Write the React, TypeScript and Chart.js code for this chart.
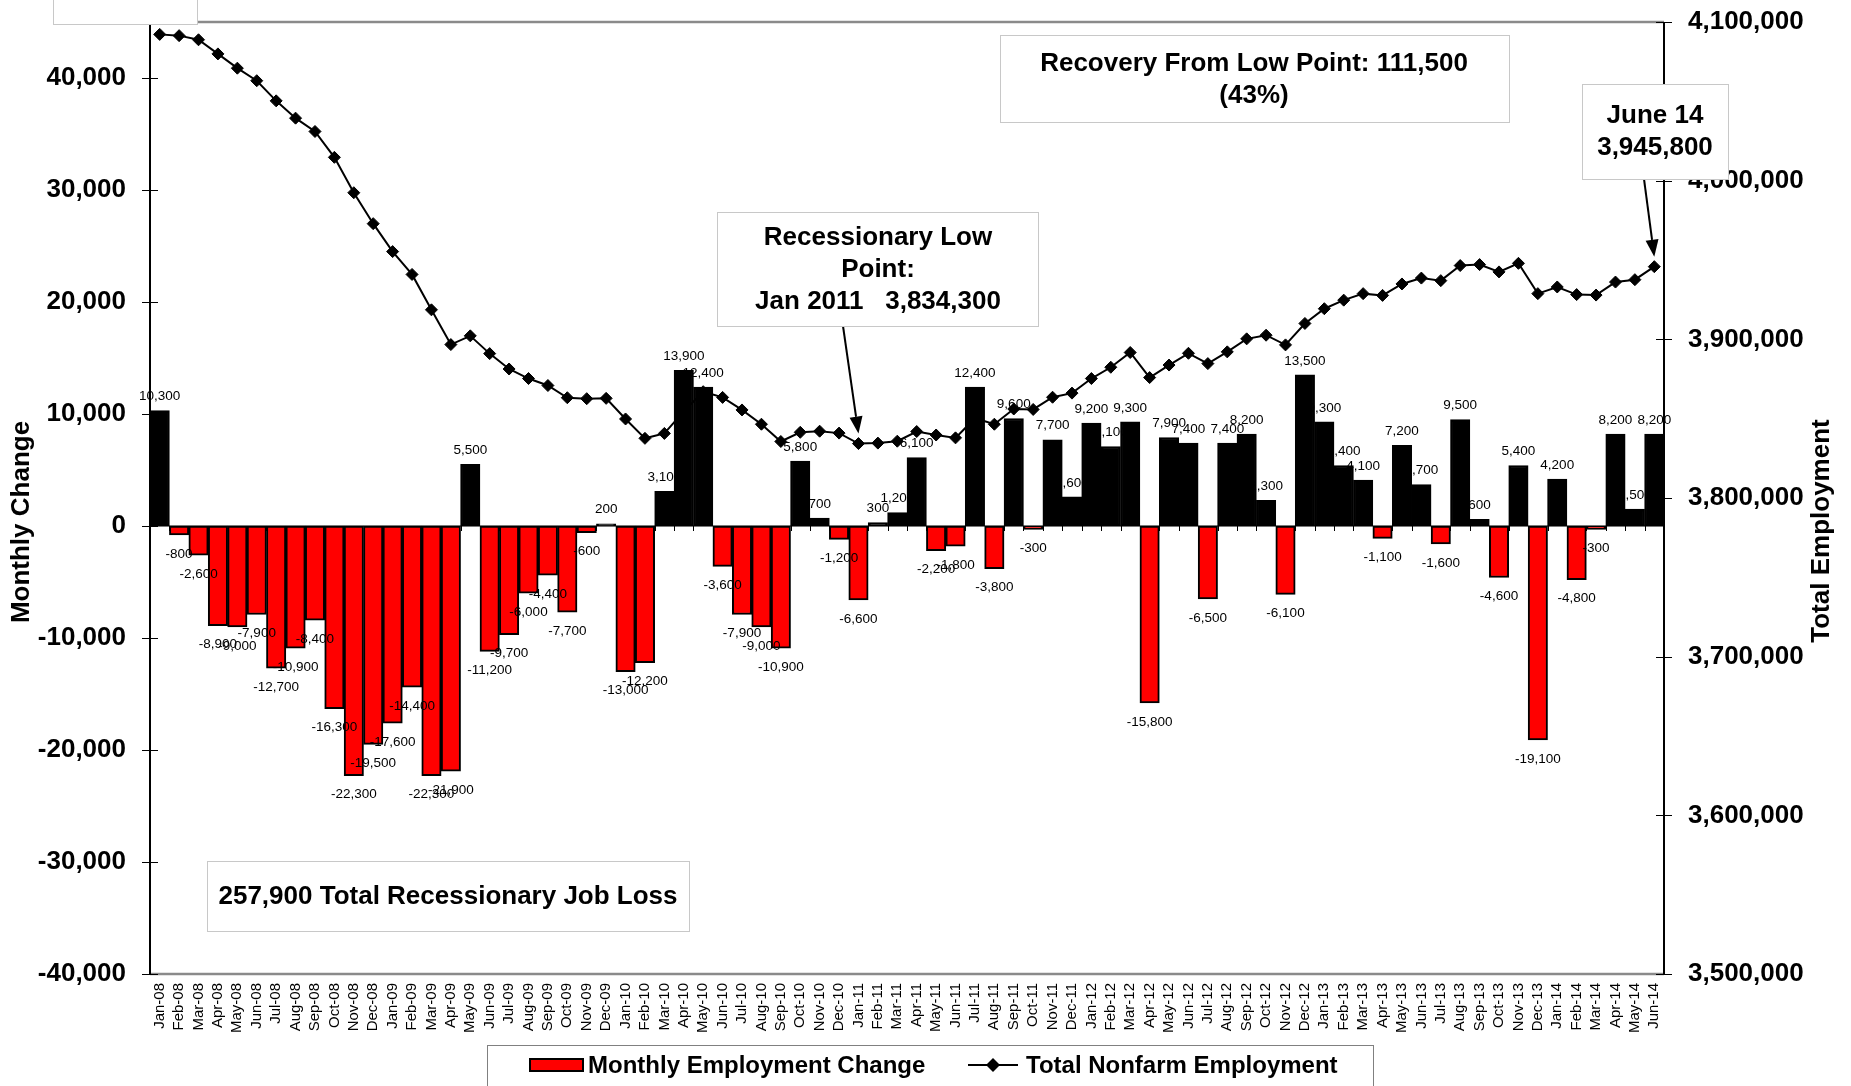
import React, { useEffect, useRef } from 'react';
import { Chart, registerables } from 'chart.js';

Chart.register(...registerables);

const FONT = "'Liberation Sans', Arial, Helvetica, sans-serif";

const months = [
  'Jan-08', 'Feb-08', 'Mar-08', 'Apr-08', 'May-08', 'Jun-08', 'Jul-08', 'Aug-08', 'Sep-08', 'Oct-08', 'Nov-08', 'Dec-08',
  'Jan-09', 'Feb-09', 'Mar-09', 'Apr-09', 'May-09', 'Jun-09', 'Jul-09', 'Aug-09', 'Sep-09', 'Oct-09', 'Nov-09', 'Dec-09',
  'Jan-10', 'Feb-10', 'Mar-10', 'Apr-10', 'May-10', 'Jun-10', 'Jul-10', 'Aug-10', 'Sep-10', 'Oct-10', 'Nov-10', 'Dec-10',
  'Jan-11', 'Feb-11', 'Mar-11', 'Apr-11', 'May-11', 'Jun-11', 'Jul-11', 'Aug-11', 'Sep-11', 'Oct-11', 'Nov-11', 'Dec-11',
  'Jan-12', 'Feb-12', 'Mar-12', 'Apr-12', 'May-12', 'Jun-12', 'Jul-12', 'Aug-12', 'Sep-12', 'Oct-12', 'Nov-12', 'Dec-12',
  'Jan-13', 'Feb-13', 'Mar-13', 'Apr-13', 'May-13', 'Jun-13', 'Jul-13', 'Aug-13', 'Sep-13', 'Oct-13', 'Nov-13', 'Dec-13',
  'Jan-14', 'Feb-14', 'Mar-14', 'Apr-14', 'May-14', 'Jun-14',
];

const monthlyChange = [
  10300, -800, -2600, -8900, -9000, -7900, -12700, -10900, -8400, -16300, -22300, -19500,
  -17600, -14400, -22300, -21900, 5500, -11200, -9700, -6000, -4400, -7700, -600, 200,
  -13000, -12200, 3100, 13900, 12400, -3600, -7900, -9000, -10900, 5800, 700, -1200,
  -6600, 300, 1200, 6100, -2200, -1800, 12400, -3800, 9600, -300, 7700, 2600,
  9200, 7100, 9300, -15800, 7900, 7400, -6500, 7400, 8200, 2300, -6100, 13500,
  9300, 5400, 4100, -1100, 7200, 3700, -1600, 9500, 600, -4600, 5400, -19100,
  4200, -4800, -300, 8200, 1500, 8200,
];

const totalEmployment = [
  4092200, 4091400, 4088800, 4079900, 4070900, 4063000, 4050300, 4039400, 4031000, 4014700, 3992400, 3972900,
  3955300, 3940900, 3918600, 3896700, 3902200, 3891000, 3881300, 3875300, 3870900, 3863200, 3862600, 3862800,
  3849800, 3837600, 3840700, 3854600, 3867000, 3863400, 3855500, 3846500, 3835600, 3841400, 3842100, 3840900,
  3834300, 3834600, 3835800, 3841900, 3839700, 3837900, 3850300, 3846500, 3856100, 3855800, 3863500, 3866100,
  3875300, 3882400, 3891700, 3875900, 3883800, 3891200, 3884700, 3892100, 3900300, 3902600, 3896500, 3910000,
  3919300, 3924700, 3928800, 3927700, 3934900, 3938600, 3937000, 3946500, 3947100, 3942500, 3947900, 3928800,
  3933000, 3928200, 3927900, 3936100, 3937600, 3945800,
];

const leftTicks = [-40000, -30000, -20000, -10000, 0, 10000, 20000, 30000, 40000];
const rightTicks = [3500000, 3600000, 3700000, 3800000, 3900000, 4000000, 4100000];

const seriesNames = ['Monthly Employment Change', 'Total Nonfarm Employment'];
const axisTitles = ['Monthly Change', 'Total Employment'];
const recoveryNote = ['Recovery From Low Point: 111,500', '(43%)'];
const latestNote = ['June 14', '3,945,800'];
const lowNote = ['Recessionary Low', 'Point:', 'Jan 2011   3,834,300'];
const lossNote = ['257,900 Total Recessionary Job Loss'];
const lowIndex = 36;
const latestIndex = 77;

const fmt = (v: number) => Number(v).toLocaleString('en-US');

function drawBox(ctx: CanvasRenderingContext2D, x1: number, y1: number, x2: number, y2: number, stroke = '#c8c8c8') {
  ctx.save();
  ctx.fillStyle = '#ffffff';
  ctx.fillRect(x1, y1, x2 - x1, y2 - y1);
  ctx.strokeStyle = stroke;
  ctx.lineWidth = 1;
  ctx.strokeRect(Math.round(x1) + 0.5, Math.round(y1) + 0.5, x2 - x1, y2 - y1);
  ctx.restore();
}

function drawLines(ctx: CanvasRenderingContext2D, lines: string[], cx: number, ys: number[], size = 26) {
  ctx.save();
  ctx.fillStyle = '#000';
  ctx.font = `bold ${size}px ${FONT}`;
  ctx.textAlign = 'center';
  ctx.textBaseline = 'middle';
  lines.forEach((l, i) => ctx.fillText(l, cx, ys[i]));
  ctx.restore();
}

function drawArrow(ctx: CanvasRenderingContext2D, x1: number, y1: number, x2: number, y2: number) {
  const ang = Math.atan2(y2 - y1, x2 - x1);
  const len = 17;
  const hw = 6.5;
  const bx = x2 - Math.cos(ang) * len;
  const by = y2 - Math.sin(ang) * len;
  ctx.save();
  ctx.strokeStyle = '#000';
  ctx.fillStyle = '#000';
  ctx.lineWidth = 2;
  ctx.beginPath();
  ctx.moveTo(x1, y1);
  ctx.lineTo(bx, by);
  ctx.stroke();
  ctx.beginPath();
  ctx.moveTo(x2, y2);
  ctx.lineTo(bx + Math.sin(ang) * hw, by - Math.cos(ang) * hw);
  ctx.lineTo(bx - Math.sin(ang) * hw, by + Math.cos(ang) * hw);
  ctx.closePath();
  ctx.fill();
  ctx.restore();
}

const decorPlugin = {
  id: 'decor',
  beforeDatasetsDraw(chart: any) {
    const { ctx, chartArea: a, scales } = chart;
    const y0 = scales.y.getPixelForValue(0);
    const n = months.length;
    const w = (a.right - a.left) / n;
    ctx.save();
    ctx.strokeStyle = '#808080';
    ctx.lineWidth = 2;
    ctx.beginPath();
    ctx.moveTo(a.left, y0);
    ctx.lineTo(a.right, y0);
    ctx.stroke();
    ctx.strokeStyle = '#000';
    ctx.lineWidth = 1;
    ctx.beginPath();
    for (let i = 1; i < n; i++) {
      const x = Math.round(a.left + i * w) + 0.5;
      ctx.moveTo(x, y0);
      ctx.lineTo(x, y0 + 5);
    }
    ctx.stroke();
    ctx.restore();
  },
  afterDatasetsDraw(chart: any) {
    const { ctx } = chart;
    const meta = chart.getDatasetMeta(0);
    ctx.save();
    ctx.fillStyle = '#000';
    ctx.font = `13.5px ${FONT}`;
    ctx.textAlign = 'center';
    ctx.textBaseline = 'middle';
    meta.data.forEach((bar: any, i: number) => {
      const v = monthlyChange[i];
      const t = fmt(v);
      if (v >= 0) ctx.fillText(t, bar.x, bar.y - 14);
      else ctx.fillText(t, bar.x, bar.y + 19);
    });
    ctx.restore();
  },
  afterDraw(chart: any) {
    const { ctx, chartArea: a, scales } = chart;
    ctx.save();
    ctx.strokeStyle = '#8a8a8a';
    ctx.lineWidth = 2.5;
    ctx.beginPath();
    ctx.moveTo(a.left, a.top);
    ctx.lineTo(a.right, a.top);
    ctx.moveTo(a.left, a.bottom);
    ctx.lineTo(a.right, a.bottom);
    ctx.stroke();
    ctx.strokeStyle = '#000';
    ctx.lineWidth = 2;
    ctx.beginPath();
    ctx.moveTo(a.left, a.top);
    ctx.lineTo(a.left, a.bottom);
    ctx.moveTo(a.right, a.top);
    ctx.lineTo(a.right, a.bottom);
    ctx.stroke();
    ctx.lineWidth = 1;
    ctx.beginPath();
    leftTicks.forEach((v) => {
      const y = Math.round(scales.y.getPixelForValue(v)) + 0.5;
      ctx.moveTo(a.left - 8, y);
      ctx.lineTo(a.left + 8, y);
    });
    rightTicks.forEach((v) => {
      const y = Math.round(scales.y1.getPixelForValue(v)) + 0.5;
      ctx.moveTo(a.right - 8, y);
      ctx.lineTo(a.right + 8, y);
    });
    ctx.stroke();
    ctx.restore();

    ctx.save();
    ctx.fillStyle = '#000';
    ctx.font = `bold 26px ${FONT}`;
    ctx.textAlign = 'center';
    ctx.textBaseline = 'middle';
    ctx.translate(22, 522);
    ctx.rotate(-Math.PI / 2);
    ctx.fillText(axisTitles[0], 0, 0);
    ctx.restore();
    ctx.save();
    ctx.fillStyle = '#000';
    ctx.font = `bold 26px ${FONT}`;
    ctx.textAlign = 'center';
    ctx.textBaseline = 'middle';
    ctx.translate(1822, 531);
    ctx.rotate(-Math.PI / 2);
    ctx.fillText(axisTitles[1], 0, 0);
    ctx.restore();

    drawBox(ctx, 53, -2, 197, 24);

    const line = chart.getDatasetMeta(1).data;
    drawBox(ctx, 1000, 35, 1509, 122);
    drawLines(ctx, recoveryNote, 1254, [64, 96]);

    const lp = line[latestIndex];
    drawArrow(ctx, 1644, 179, lp.x, lp.y - 10);
    drawBox(ctx, 1582, 84, 1728, 179);
    drawLines(ctx, latestNote, 1655, [116, 148]);

    const lo = line[lowIndex];
    drawArrow(ctx, 843, 326, lo.x, lo.y - 10);
    drawBox(ctx, 717, 212, 1038, 326);
    drawLines(ctx, lowNote, 878, [238, 270, 302]);

    drawBox(ctx, 207, 861, 689, 931);
    drawLines(ctx, lossNote, 448, [897]);

    drawBox(ctx, 487, 1045, 1373, 1092, '#808080');
    ctx.save();
    ctx.fillStyle = '#ff0000';
    ctx.fillRect(530, 1059, 53, 12);
    ctx.strokeStyle = '#000';
    ctx.lineWidth = 2;
    ctx.strokeRect(530, 1059, 53, 12);
    ctx.beginPath();
    ctx.moveTo(968, 1065);
    ctx.lineTo(1018, 1065);
    ctx.stroke();
    ctx.beginPath();
    ctx.moveTo(993, 1058);
    ctx.lineTo(1000, 1065);
    ctx.lineTo(993, 1072);
    ctx.lineTo(986, 1065);
    ctx.closePath();
    ctx.fillStyle = '#000';
    ctx.fill();
    ctx.font = `bold 24px ${FONT}`;
    ctx.textAlign = 'left';
    ctx.textBaseline = 'middle';
    ctx.fillText(seriesNames[0], 588, 1066);
    ctx.fillText(seriesNames[1], 1026, 1066);
    ctx.restore();
  },
};

const noPad = (s: any) => {
  s.paddingTop = 0;
  s.paddingBottom = 0;
};

export default function App() {
  const ref = useRef<HTMLCanvasElement>(null);
  useEffect(() => {
    if (!ref.current) return;
    const chart = new Chart(ref.current, {
      type: 'bar',
      data: {
        labels: months,
        datasets: [
          {
            type: 'bar',
            label: seriesNames[0],
            data: monthlyChange,
            yAxisID: 'y',
            backgroundColor: monthlyChange.map((v) => (v >= 0 ? '#000000' : '#ff0000')),
            borderColor: '#000000',
            borderWidth: 2,
            borderSkipped: false,
            categoryPercentage: 1,
            barPercentage: 1,
            order: 1,
          } as any,
          {
            type: 'line',
            label: seriesNames[1],
            data: totalEmployment,
            yAxisID: 'y1',
            borderColor: '#000000',
            borderWidth: 2,
            pointStyle: 'rectRot',
            pointRadius: 6,
            pointBackgroundColor: '#000000',
            pointBorderColor: '#000000',
            pointBorderWidth: 1,
            tension: 0,
            order: 0,
          } as any,
        ],
      },
      options: {
        responsive: false,
        animation: false,
        devicePixelRatio: 1,
        layout: { padding: { top: 22, left: 0, right: 0, bottom: 0 } },
        plugins: { legend: { display: false }, tooltip: { enabled: false } },
        scales: {
          x: {
            type: 'category',
            offset: true,
            grid: { display: false, drawTicks: false },
            border: { display: false },
            ticks: {
              autoSkip: false,
              minRotation: 90,
              maxRotation: 90,
              padding: 9,
              color: '#000',
              font: { family: FONT, size: 15 },
            },
            afterFit: (s: any) => {
              s.height = 112;
              s.paddingLeft = 0;
              s.paddingRight = 0;
            },
          },
          y: {
            position: 'left',
            min: -40000,
            max: 45000,
            grid: { display: false, drawTicks: false },
            border: { display: false },
            ticks: {
              padding: 24,
              color: '#000',
              font: { family: FONT, size: 26, weight: 'bold' },
              callback: (v: any) => fmt(v),
            },
            afterBuildTicks: (s: any) => {
              s.ticks = leftTicks.map((v) => ({ value: v }));
            },
            afterFit: (s: any) => {
              s.width = 150;
              noPad(s);
            },
          },
          y1: {
            position: 'right',
            min: 3500000,
            max: 4100000,
            grid: { display: false, drawTicks: false },
            border: { display: false },
            ticks: {
              padding: 24,
              color: '#000',
              font: { family: FONT, size: 26, weight: 'bold' },
              callback: (v: any) => fmt(v),
            },
            afterBuildTicks: (s: any) => {
              s.ticks = rightTicks.map((v) => ({ value: v }));
            },
            afterFit: (s: any) => {
              s.width = 187;
              noPad(s);
            },
          },
        },
      } as any,
      plugins: [decorPlugin],
    });
    return () => chart.destroy();
  }, []);
  return (
    <div style={{ position: 'fixed', left: 0, top: 0, width: 1851, height: 1086, background: '#ffffff', overflow: 'hidden' }}>
      <canvas ref={ref} width={1851} height={1086} style={{ display: 'block', width: 1851, height: 1086 }} />
    </div>
  );
}
